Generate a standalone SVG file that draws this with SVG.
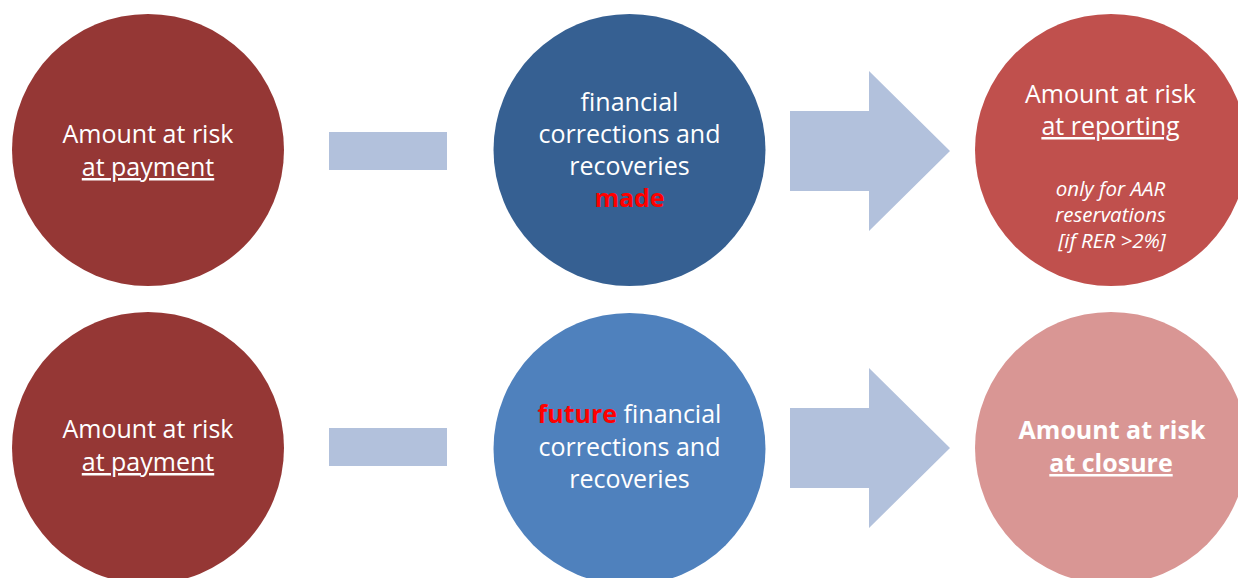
<svg xmlns="http://www.w3.org/2000/svg" width="1238" height="578" viewBox="0 0 1238 578">
<style>
.t{font-family:"Open Sans","Liberation Sans",sans-serif;font-size:25px;fill:#fff;text-anchor:middle}
.s{font-size:20.5px;font-style:italic}
.b{font-weight:bold}
.u{text-decoration:underline}
.red{fill:#ff0000;font-weight:bold}
.conn{fill:#b2c1dc}
</style>
<rect width="1238" height="578" fill="#fff"/>
<g id="connectors">
<rect class="conn" x="329" y="132" width="118" height="38"/>
<polygon class="conn" points="790,111 869,111 869,71 950,151 869,231 869,191 790,191"/>
<rect class="conn" x="329" y="428" width="118" height="38"/>
<polygon class="conn" points="790,408 869,408 869,368 950,448 869,528 869,488 790,488"/>
</g>
<g id="n1">
<circle cx="148" cy="150" r="136" fill="#953735"/>
<text class="t" x="148" y="143">Amount at risk</text>
<text class="t u" x="148" y="176">at payment</text>
</g>
<g id="n2">
<circle cx="629.5" cy="150" r="136" fill="#366092"/>
<text class="t" x="629.5" y="111">financial</text>
<text class="t" x="629.5" y="143">corrections and</text>
<text class="t" x="629.5" y="175">recoveries</text>
<text class="t red" x="629.5" y="207">made</text>
</g>
<g id="n3">
<circle cx="1111" cy="150" r="136" fill="#c0504d"/>
<text class="t" x="1110.5" y="103">Amount at risk</text>
<text class="t u" x="1110.5" y="135">at reporting</text>
<text class="t s" x="1110.5" y="196">only for AAR</text>
<text class="t s" x="1110.5" y="222">reservations</text>
<text class="t s" x="1112" y="248">[if RER &gt;2%]</text>
</g>
<g id="n4">
<circle cx="148" cy="448" r="136" fill="#953735"/>
<text class="t" x="148" y="438">Amount at risk</text>
<text class="t u" x="148" y="471">at payment</text>
</g>
<g id="n5">
<circle cx="629.5" cy="449" r="136" fill="#4f81bd"/>
<text class="t" x="629.5" y="423"><tspan class="red">future</tspan> financial</text>
<text class="t" x="629.5" y="456">corrections and</text>
<text class="t" x="629.5" y="488">recoveries</text>
</g>
<g id="n6">
<circle cx="1111" cy="448" r="136" fill="#d99694"/>
<text class="t b" x="1112" y="439">Amount at risk</text>
<text class="t b u" x="1111" y="472">at closure</text>
</g>
</svg>
